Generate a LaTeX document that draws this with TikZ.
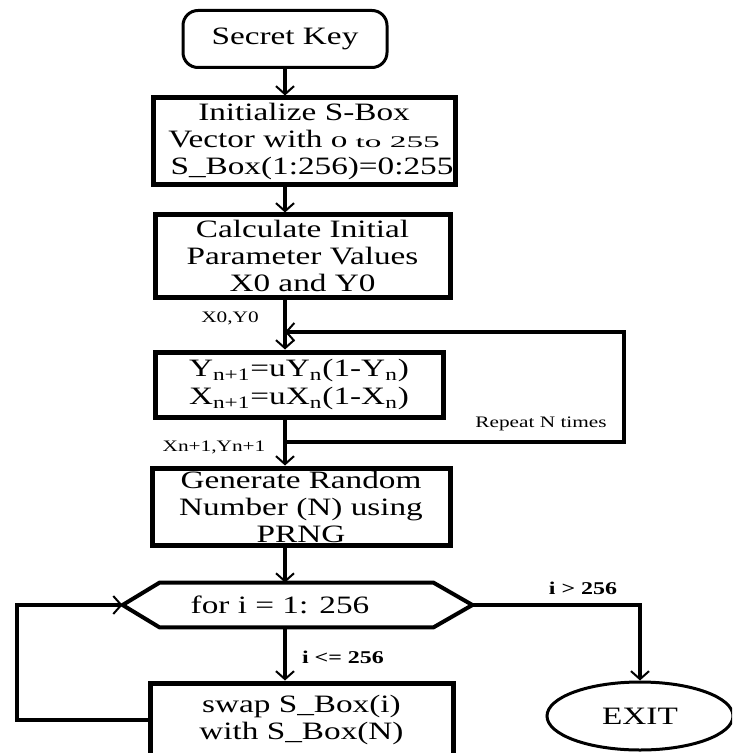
\documentclass[tikz,border=0pt]{standalone}
\usepackage{fontspec}
\usepackage{graphicx}
\setmainfont[FakeStretch=1.33]{Liberation Serif}
\usetikzlibrary{arrows.meta,shapes.geometric,calc}
\begin{document}
\begin{tikzpicture}[x=0.5pt,y=-0.5pt,
  mainfont/.style={font=\fontsize{12.5}{13.5}\selectfont},
  box/.style={draw, line width=2.5pt, rectangle, align=center, inner sep=0pt, mainfont},
  conn/.style={line width=2pt},
  arr/.style={conn, -{Straight Barb[length=4pt,width=9pt,line width=1pt]}},
  lbl/.style={font=\fontsize{8}{9.6}\selectfont, inner sep=0pt},
  blbl/.style={font=\fontsize{9}{10.8}\selectfont\bfseries, inner sep=0pt}]
\useasboundingbox (0,0) rectangle (732,753);
\fill[white] (0,0) rectangle (732,753);
\clip (0,0) rectangle (732,753);

\node[draw, line width=1.5pt, rounded corners=7.5pt, minimum width=102pt, minimum height=28.5pt, inner sep=0pt, mainfont] (key) at (285,39) {Secret Key};
\node[box, minimum width=151pt, minimum height=43.5pt] (init) at (304,141.5)
  {Initialize S-Box\\Vector with \scalebox{1}[0.65]{0 to 255}\\\hspace*{8pt}S\_Box(1:256)=0:255};
\node[box, minimum width=147.5pt, minimum height=41pt] (calc) at (302.5,256)
  {Calculate Initial\\Parameter Values\\X0 and Y0};
\node[box, minimum width=144pt, minimum height=32.5pt, font=\fontsize{12.5}{14}\selectfont] (yn) at (299,384.5)
  {Y\textsubscript{n+1}=uY\textsubscript{n}(1-Y\textsubscript{n})\\X\textsubscript{n+1}=uX\textsubscript{n}(1-X\textsubscript{n})};
\node[box, minimum width=149pt, minimum height=38.5pt] (gen) at (301,506.5)
  {Generate Random\\Number (N) using\\PRNG};
\node[rectangle, minimum width=174.5pt, minimum height=22pt, inner sep=0pt, mainfont] (for) at (297.5,605)
  {for i = 1: 256\hspace*{17.5pt}};
\draw[line width=2pt] (for.west) -- ($(for.north west)+(37,0)$) -- ($(for.north east)+(-39,0)$)
  -- (for.east) -- ($(for.south east)+(-39,0)$) -- ($(for.south west)+(37,0)$) -- cycle;
\node[box, minimum width=151.5pt, minimum height=37pt] (swap) at (301.5,720)
  {swap S\_Box(i)\\with S\_Box(N)};
\node[draw, ellipse, line width=1.5pt, minimum width=93pt, minimum height=34pt, inner sep=0pt, mainfont] (exit) at (640,716) {EXIT};

\coordinate (sp) at (285,0);
\coordinate (lt) at (285,332);
\coordinate (lb) at (285,442);
\coordinate (rx) at (624,0);
\coordinate (lx) at (17,0);

\draw[arr] (key.south) -- (key.south |- init.north);
\draw[arr] (sp |- init.south) -- (sp |- calc.north);
\draw[arr] (sp |- calc.south) -- (sp |- yn.north);
\draw[arr] (lb) -- (lb -| rx) -- (lt -| rx) -- (lt);
\draw[arr] (sp |- yn.south) -- (sp |- gen.north);
\draw[arr] (sp |- gen.south) -- (sp |- for.north);
\draw[arr] (sp |- for.south) -- (sp |- swap.north);
\draw[arr] (swap.west) -- (swap.west -| lx) |- (for.west);
\draw[arr] (for.east) -| (exit.north);

\node[lbl] (l1) at (230,318) {X0,Y0};
\node[lbl] (l2) at (541,424) {Repeat N times};
\node[lbl] (l3) at (214,447) {Xn+1,Yn+1};
\node[blbl] (l4) at (583,588) {i > 256};
\node[blbl] (l5) at (343,657) {i <= 256};
\end{tikzpicture}
\end{document}
